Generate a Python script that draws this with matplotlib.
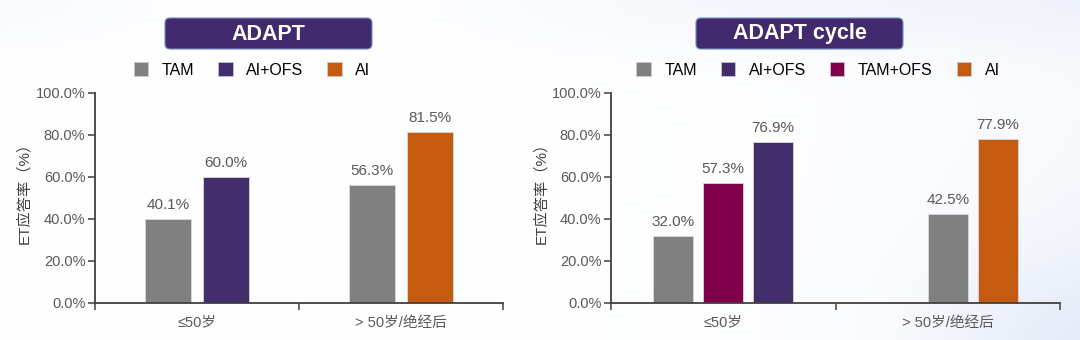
import numpy as np
import matplotlib.pyplot as plt
from matplotlib.patches import FancyBboxPatch, Rectangle
from matplotlib.ticker import FuncFormatter

plt.rcParams['font.family'] = ['Liberation Sans', 'Noto Sans CJK SC', 'DejaVu Sans']

groups = ['≤50岁', '> 50岁/绝经后']

# ADAPT 各组ET应答率
adapt_tam = [40.1, 56.3]
adapt_ai_ofs = [60.0, None]
adapt_ai = [None, 81.5]

# ADAPT cycle 各组ET应答率
cycle_tam = [32.0, 42.5]
cycle_tam_ofs = [57.3, None]
cycle_ai_ofs = [76.9, None]
cycle_ai = [None, 77.9]

c_tam = '#808080'
c_ai_ofs = '#412c6c'
c_tam_ofs = '#80004c'
c_ai = '#c55a11'
c_box = '#422a6e'
c_txt = '#595959'

W, H = 1080, 340
fig = plt.figure(figsize=(W / 100, H / 100), dpi=100)
fig.patch.set_facecolor('white')

# 背景层, 用像素坐标
bg = fig.add_axes([0, 0, 1, 1], zorder=-1)
bg.set_xlim(0, W)
bg.set_ylim(H, 0)
bg.axis('off')
yy, xx = np.mgrid[0:H, 0:W]
shade = 0.35 * (xx / W) ** 4 * (0.6 + 0.4 * yy / H) \
    + 0.3 * np.exp(-(yy / 50.0) ** 2) * (1 - np.exp(-((xx - 300) / 250.0) ** 2)) \
    + 0.5 * np.exp(-(((xx - W) / 140.0) ** 2 + ((yy - H) / 90.0) ** 2))
shade = np.clip(shade, 0, 1)
base = np.array([1.0, 1.0, 1.0])
tint = np.array([0.88, 0.91, 0.97])
img = base[None, None, :] * (1 - shade[..., None]) + tint[None, None, :] * shade[..., None]
bg.imshow(img, extent=(0, W, H, 0), aspect='auto', interpolation='bilinear')


def title_box(x0, x1, text):
    box = FancyBboxPatch((x0, 18), x1 - x0, 31, boxstyle='round,pad=0,rounding_size=5',
                         facecolor=c_box, edgecolor='#6f8fc0', linewidth=0.8)
    bg.add_patch(box)
    bg.text((x0 + x1) / 2, 34, text, color='white', fontsize=15.5, fontweight='bold',
            ha='center', va='center')


def draw_panel(ax, series, bar_w, slot, label_x):
    for values, color, offsets in series:
        for i, v in enumerate(values):
            if v is None:
                continue
            x = i + 0.5 + offsets[i] * slot
            ax.bar(x, v, width=bar_w, color=color, edgecolor='#d8d8e0', linewidth=0.6, zorder=2)
            ax.annotate(f'{v:.1f}%', (x, v), xytext=(0, 5), textcoords='offset points',
                        ha='center', va='bottom', fontsize=11, color=c_txt)
    ax.set_xlim(0, 2)
    ax.set_ylim(0, 100)
    ax.set_facecolor('none')
    ax.spines['top'].set_visible(False)
    ax.spines['right'].set_visible(False)
    for s in ('left', 'bottom'):
        ax.spines[s].set_color('#404040')
        ax.spines[s].set_linewidth(1.3)
    ax.set_yticks(np.arange(0, 101, 20))
    ax.yaxis.set_major_formatter(FuncFormatter(lambda v, p: f'{v:.1f}%'))
    ax.tick_params(axis='y', direction='out', length=5, width=1.1, color='#404040',
                   labelsize=10.5, labelcolor=c_txt, pad=2)
    ax.set_xticks([0, 1, 2])
    ax.set_xticklabels([])
    ax.tick_params(axis='x', which='major', direction='out', length=5, width=1.1, color='#404040')
    ax.set_xticks([0.5, 1.5], minor=True)
    ax.set_xticklabels(groups, minor=True)
    ax.tick_params(axis='x', which='minor', length=0, labelsize=10.5, labelcolor=c_txt, pad=9)
    ax.set_ylabel('ET应答率（%）', fontsize=11, color='#404040')
    ax.yaxis.set_label_coords(label_x, 0.54)


# 左图 ADAPT
ax1 = fig.add_axes([95 / W, 37 / H, 408 / W, 210 / H])
draw_panel(ax1, [
    (adapt_tam, c_tam, [-0.5, -0.5]),
    (adapt_ai_ofs, c_ai_ofs, [0.5, 0.5]),
    (adapt_ai, c_ai, [0.5, 0.5]),
], bar_w=0.23, slot=0.284, label_x=-0.155)

# 右图 ADAPT cycle
ax2 = fig.add_axes([611 / W, 37 / H, 449 / W, 210 / H])
draw_panel(ax2, [
    (cycle_tam, c_tam, [-1, 0]),
    (cycle_tam_ofs, c_tam_ofs, [0, 0]),
    (cycle_ai_ofs, c_ai_ofs, [1, 1]),
    (cycle_ai, c_ai, [1, 1]),
], bar_w=0.178, slot=0.222, label_x=-0.14)

title_box(165, 372, 'ADAPT')
title_box(696, 903, 'ADAPT cycle')


def legend(items, x_center):
    handles = [Rectangle((0, 0), 1, 1, facecolor=c, edgecolor='#c8cde0', linewidth=0.5) for _, c in items]
    fig.legend(handles, [t for t, _ in items], loc='center', ncol=len(items),
               bbox_to_anchor=(x_center / W, 1 - 70 / H), frameon=False, fontsize=11.5,
               handlelength=0.9, handleheight=0.9, handletextpad=0.85, columnspacing=1.5,
               borderpad=0)


legend([('TAM', c_tam), ('AI+OFS', c_ai_ofs), ('AI', c_ai)], 252)
legend([('TAM', c_tam), ('AI+OFS', c_ai_ofs), ('TAM+OFS', c_tam_ofs), ('AI', c_ai)], 818)

fig.savefig('out.png', dpi=100, facecolor=fig.get_facecolor())
